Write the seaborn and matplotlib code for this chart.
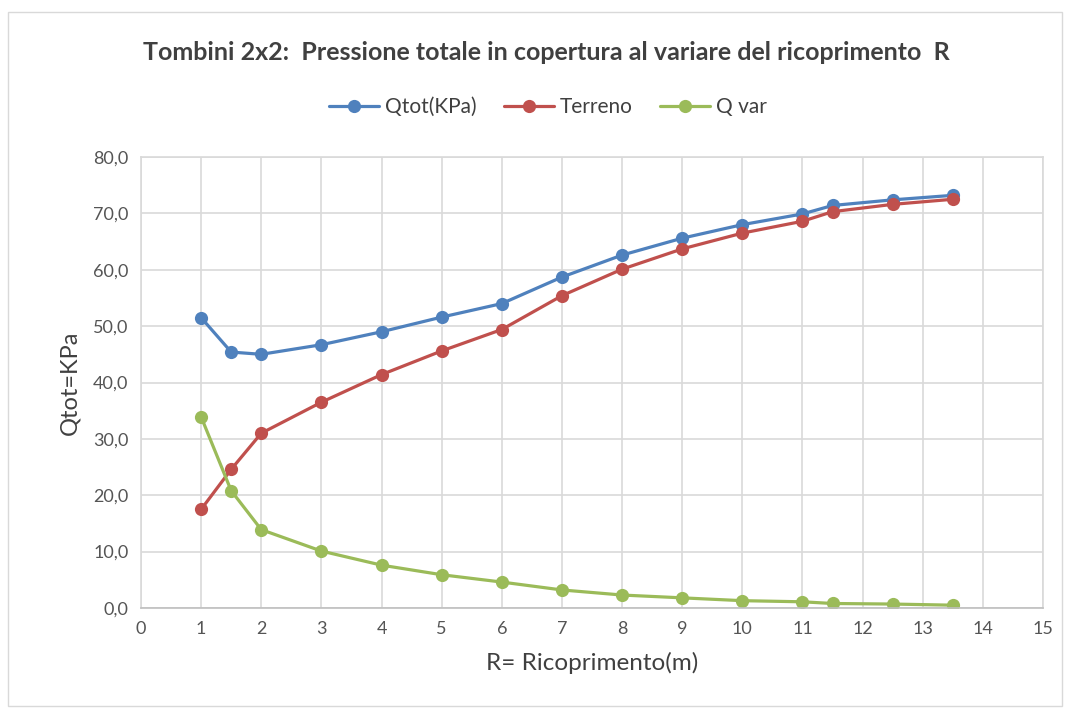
import matplotlib
matplotlib.use("Agg")
import matplotlib.pyplot as plt
from matplotlib.patches import Rectangle
from matplotlib.ticker import FuncFormatter, MultipleLocator
import pandas as pd
import seaborn as sns

# values
ricoprimento = [1, 1.5, 2, 3, 4, 5, 6, 7, 8, 9, 10, 11, 11.5, 12.5, 13.5]
qtot = [51.5, 45.4, 45.0, 46.7, 49.0, 51.6, 54.0, 58.7, 62.6, 65.6, 68.0, 69.9, 71.4, 72.4, 73.2]
terreno = [17.5, 24.6, 31.0, 36.5, 41.4, 45.6, 49.4, 55.4, 60.1, 63.7, 66.5, 68.6, 70.3, 71.6, 72.5]
qvar = [33.9, 20.8, 13.9, 10.1, 7.6, 5.9, 4.6, 3.2, 2.3, 1.8, 1.3, 1.1, 0.8, 0.7, 0.5]
series_names = ["Qtot(KPa)", "Terreno", "Q var"]
colors = ["#4F81BD", "#C0504D", "#9BBB59"]

df = pd.DataFrame({"R": ricoprimento, series_names[0]: qtot,
                   series_names[1]: terreno, series_names[2]: qvar})
long_df = df.melt(id_vars="R", var_name="serie", value_name="Q")

sns.set_theme(style="whitegrid")
plt.rcParams["font.family"] = ["Lato", "DejaVu Sans"]

fig = plt.figure(figsize=(10.7, 7.18), dpi=100)
ax = fig.add_axes([141 / 1070, 1 - 608 / 718, (1043 - 141) / 1070, (608 - 157) / 718])

sns.lineplot(data=long_df, x="R", y="Q", hue="serie", style="serie",
             hue_order=series_names, palette=colors, markers=["o", "o", "o"],
             dashes=False, linewidth=2.3, markersize=9.5, markeredgewidth=0, ax=ax)

ax.set_xlim(0, 15)
ax.set_ylim(0, 80)
ax.xaxis.set_major_locator(MultipleLocator(1))
ax.yaxis.set_major_locator(MultipleLocator(10))
ax.yaxis.set_major_formatter(FuncFormatter(lambda v, p: f"{v:.1f}".replace(".", ",")))
ax.tick_params(axis="both", labelsize=13, colors="#555555", length=0, pad=9)
ax.grid(True, color="#D9D9D9", linewidth=1.2)
for s in ax.spines.values():
    s.set_color("#D9D9D9")
    s.set_linewidth(1.2)
ax.spines["bottom"].set_color("#BFBFBF")

ax.set_xlabel("R= Ricoprimento(m)", fontsize=17.5, color="#404040", labelpad=11)
ax.set_ylabel("Qtot=KPa", fontsize=17, color="#404040", labelpad=9)

ax.legend(loc="center", bbox_to_anchor=(548 / 1070, 1 - 107 / 718), bbox_transform=fig.transFigure,
          ncol=3, frameon=False, fontsize=15, handlelength=2.4, handletextpad=0.3,
          columnspacing=1.3, labelcolor="#404040")

fig.text(546 / 1070, 1 - 52 / 718, "Tombini 2x2:  Pressione totale in copertura al variare del ricoprimento  R",
         ha="center", va="center", fontsize=18, fontweight="bold", color="#404040")

fig.patches.append(Rectangle((8 / 1070, 12 / 718), 1054 / 1070, 694 / 718,
                             transform=fig.transFigure, fill=False,
                             edgecolor="#D9D9D9", linewidth=1))

fig.savefig("out.png", dpi=100)
